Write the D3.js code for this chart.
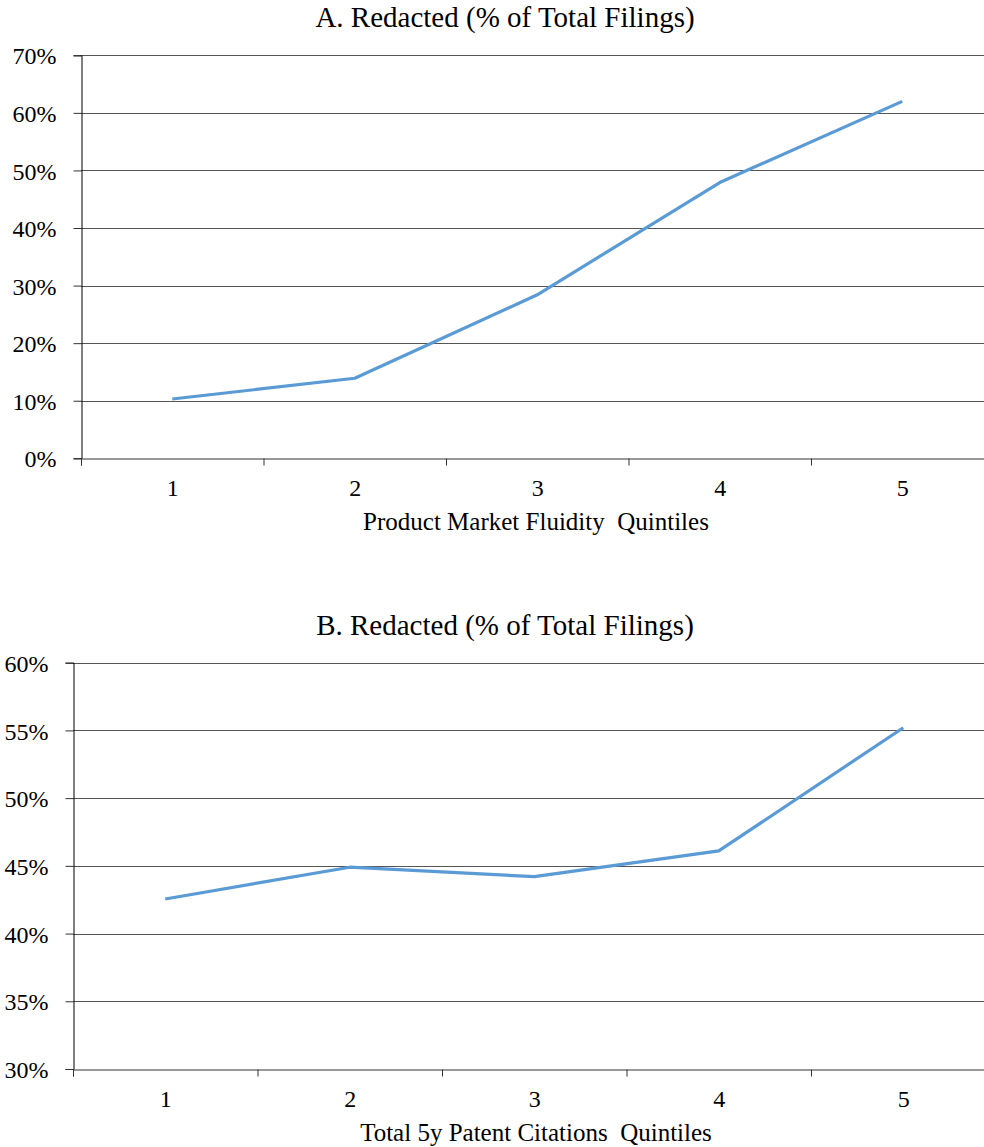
<!DOCTYPE html>
<html><head><meta charset="utf-8">
<script src="https://cdn.jsdelivr.net/npm/d3@7"></script>
<style>
body{margin:0;background:#fff;}
svg text{font-family:"Liberation Serif","Times New Roman",Times,"Tinos","DejaVu Serif",serif !important;fill:#000;}
</style></head>
<body><svg id="c" width="984" height="1147"></svg>
<script>
const categories = [1, 2, 3, 4, 5];
const seriesA = [10.3, 13.9, 28.4, 47.9, 62.0];
const seriesB = [42.55, 44.9, 44.2, 46.1, 55.2];
const ticksA = [0, 10, 20, 30, 40, 50, 60, 70];
const ticksB = [30, 35, 40, 45, 50, 55, 60];
const titleA = "A. Redacted (% of Total Filings)";
const titleB = "B. Redacted (% of Total Filings)";
const xLabelA = "Product Market Fluidity  Quintiles";
const xLabelB = "Total 5y Patent Citations  Quintiles";

const svg = d3.select("#c");

function panel(cfg){
  const g = svg.append("g");
  const x = d3.scaleLinear().domain([0.5, 5.5]).range([cfg.left, cfg.right]);
  const y = d3.scaleLinear().domain([cfg.ticks[0], cfg.ticks[cfg.ticks.length-1]]).range([cfg.bottom, cfg.top]);

  g.selectAll(".grid").data(cfg.ticks.slice(1)).enter().append("line")
    .attr("x1", cfg.left).attr("x2", 984)
    .attr("y1", d => Math.round(y(d))+0.5).attr("y2", d => Math.round(y(d))+0.5)
    .attr("stroke", "#555").attr("stroke-width", 1);

  const ya = d3.axisLeft(y).tickValues(cfg.ticks).tickSize(8).tickFormat(d => d + "%");
  const yg = g.append("g").attr("transform", `translate(${Math.round(cfg.left)+0.5},0)`).call(ya);
  yg.attr("font-family", null);
  yg.select(".domain").attr("stroke", "#000");
  yg.selectAll(".tick line").attr("stroke", "#333");
  yg.selectAll(".tick text").attr("font-size", 24).attr("x", -25).attr("dy", "0.36em");

  const xb = d3.axisBottom(x).tickValues([0.5,1.5,2.5,3.5,4.5,5.5]).tickSize(7).tickFormat("");
  const xg = g.append("g").attr("transform", `translate(0,${Math.round(cfg.bottom)+0.5})`).call(xb);
  xg.select(".domain").attr("stroke", "#333");
  xg.selectAll(".tick line").attr("stroke", "#333");

  const xl = d3.axisBottom(x).tickValues(categories).tickSize(0).tickPadding(21).tickFormat(d3.format("d"));
  const xlg = g.append("g").attr("transform", `translate(0,${Math.round(cfg.bottom)})`).call(xl);
  xlg.attr("font-family", null);
  xlg.select(".domain").remove();
  xlg.selectAll(".tick text").attr("font-size", 24);

  const line = d3.line().x((d,i) => x(categories[i])).y(d => y(d));
  g.append("path").datum(cfg.values).attr("d", line)
    .attr("fill", "none").attr("stroke", "#5B9BD5").attr("stroke-width", 3.2)
    .attr("stroke-linejoin", "round");

  g.append("text").attr("x", 505).attr("y", cfg.top - 28).attr("text-anchor", "middle")
    .attr("font-size", 29).text(cfg.title);
  g.append("text").attr("x", 536).attr("y", cfg.bottom + 72).attr("text-anchor", "middle")
    .attr("font-size", 25).style("white-space","pre").text(cfg.xLabel);
}

panel({left: 81, right: 993.5, top: 55.3, bottom: 458.3, ticks: ticksA, values: seriesA, title: titleA, xLabel: xLabelA});
panel({left: 73, right: 995.5, top: 662.7, bottom: 1069, ticks: ticksB, values: seriesB, title: titleB, xLabel: xLabelB});
</script></body></html>
